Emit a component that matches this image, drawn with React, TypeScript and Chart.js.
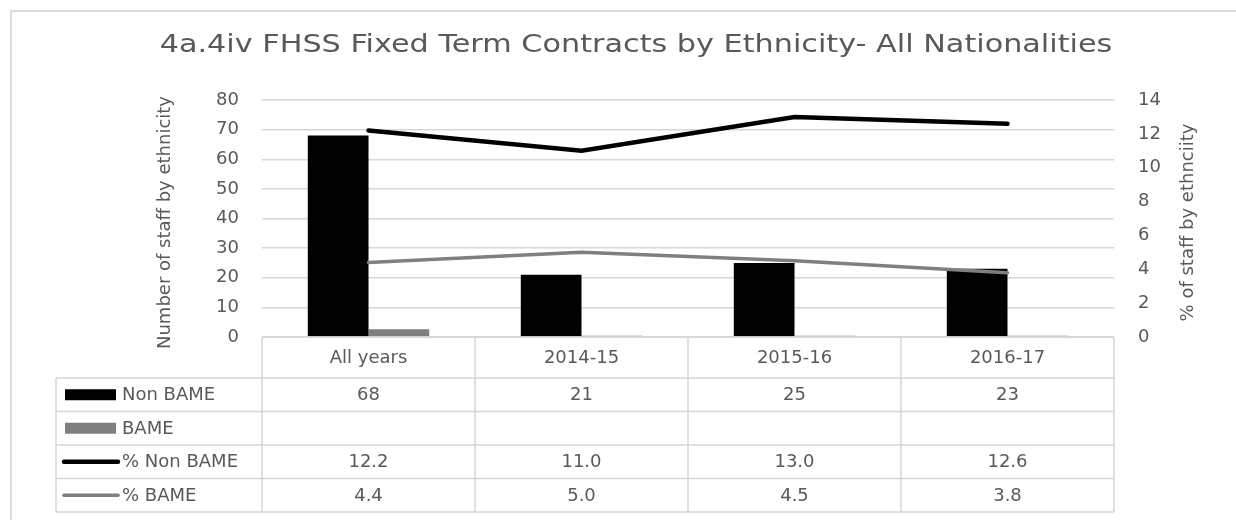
import React, { useEffect, useRef } from "react";
import { Chart, registerables } from "chart.js";

Chart.register(...registerables);

// ---------- data ----------
const TITLE = "4a.4iv FHSS Fixed Term Contracts by Ethnicity- All Nationalities";
const LEFT_AXIS_TITLE = "Number of staff by ethnicity";
const RIGHT_AXIS_TITLE = "% of staff by ethnciity";
const categories = ["All years", "2014-15", "2015-16", "2016-17"];
const seriesNames = ["Non BAME", "BAME", "% Non BAME", "% BAME"];
const nonBame = [68, 21, 25, 23];
const bame = [2.6, 0.4, 0.4, 0.4];
const pctNonBame = [12.2, 11.0, 13.0, 12.6];
const pctBame = [4.4, 5.0, 4.5, 3.8];
const countMax = 80;
const countStep = 10;
const pctMax = 14;
const pctStep = 2;

// ---------- styles ----------
const FONT = "'DejaVu Sans', sans-serif";
const TEXT = "#595959";
const GRID = "#d6d6d6";
const BLACK = "#000000";
const GREY = "#7f7f7f";
const W = 1236;
const H = 520;

export default function App() {
  const ref = useRef<HTMLCanvasElement | null>(null);

  useEffect(() => {
    if (!ref.current) return;

    const tableRows = [
      { name: seriesNames[0], kind: "bar", color: BLACK, width: 0, cells: nonBame.map((v) => String(v)) },
      { name: seriesNames[1], kind: "bar", color: GREY, width: 0, cells: categories.map(() => "") },
      { name: seriesNames[2], kind: "line", color: BLACK, width: 4.5, cells: pctNonBame.map((v) => v.toFixed(1)) },
      { name: seriesNames[3], kind: "line", color: GREY, width: 3.5, cells: pctBame.map((v) => v.toFixed(1)) },
    ];

    const decor = {
      id: "decor",
      beforeDraw(chart: any) {
        const ctx = chart.ctx;
        ctx.save();
        ctx.fillStyle = "#ffffff";
        ctx.fillRect(0, 0, chart.width, chart.height);
        ctx.strokeStyle = "#dcdcdc";
        ctx.lineWidth = 2;
        ctx.strokeRect(11, 11, chart.width + 40, chart.height + 40);
        ctx.restore();
      },
      afterDraw(chart: any) {
        const ctx = chart.ctx;
        const area = chart.chartArea;
        const xs = chart.scales.x;
        ctx.save();
        ctx.fillStyle = TEXT;

        // chart title (horizontally widened)
        ctx.font = `25px ${FONT}`;
        ctx.textAlign = "center";
        ctx.textBaseline = "middle";
        ctx.save();
        ctx.translate(636, 45);
        ctx.scale(1.21, 1);
        ctx.fillText(TITLE, 0, 0);
        ctx.restore();

        // axis titles
        const midY = (area.top + area.bottom) / 2 + 4;
        ctx.font = `18px ${FONT}`;
        ctx.save();
        ctx.translate(area.left - 97, midY);
        ctx.rotate(-Math.PI / 2);
        ctx.fillText(LEFT_AXIS_TITLE, 0, 0);
        ctx.restore();
        ctx.save();
        ctx.translate(area.right + 74, midY);
        ctx.rotate(-Math.PI / 2);
        ctx.fillText(RIGHT_AXIS_TITLE, 0, 0);
        ctx.restore();

        // data table
        const n = categories.length;
        const colW = (area.right - area.left) / n;
        const top = area.bottom;
        const headerH = 41;
        const rowH = 33.5;
        const legendLeft = 56;
        const bottom = top + headerH + rowH * tableRows.length;

        ctx.strokeStyle = GRID;
        ctx.lineWidth = 1.5;
        ctx.beginPath();
        for (let i = 0; i <= n; i++) {
          const x = area.left + i * colW;
          ctx.moveTo(x, top);
          ctx.lineTo(x, bottom);
        }
        ctx.moveTo(area.left, top);
        ctx.lineTo(area.right, top);
        for (let r = 0; r <= tableRows.length; r++) {
          const y = top + headerH + r * rowH;
          ctx.moveTo(legendLeft, y);
          ctx.lineTo(area.right, y);
        }
        ctx.moveTo(legendLeft, top + headerH);
        ctx.lineTo(legendLeft, bottom);
        ctx.stroke();

        ctx.font = `18px ${FONT}`;
        ctx.fillStyle = TEXT;
        ctx.textAlign = "center";
        ctx.textBaseline = "middle";
        categories.forEach((c, i) => {
          ctx.fillText(c, xs.getPixelForValue(i), top + headerH / 2 + 1);
        });

        tableRows.forEach((row, r) => {
          const cy = top + headerH + r * rowH + rowH / 2;
          if (row.kind === "bar") {
            ctx.fillStyle = row.color;
            ctx.fillRect(legendLeft + 9, cy - 5.5, 51, 11);
          } else {
            ctx.strokeStyle = row.color;
            ctx.lineWidth = row.width;
            ctx.lineCap = "round";
            ctx.beginPath();
            ctx.moveTo(legendLeft + 8, cy);
            ctx.lineTo(legendLeft + 62, cy);
            ctx.stroke();
          }
          ctx.fillStyle = TEXT;
          ctx.textAlign = "left";
          ctx.fillText(row.name, legendLeft + 66, cy + 1);
          ctx.textAlign = "center";
          row.cells.forEach((t, i) => {
            ctx.fillText(t, xs.getPixelForValue(i), cy + 1);
          });
        });
        ctx.restore();
      },
    };

    const chart = new Chart(ref.current, {
      type: "bar",
      data: {
        labels: categories,
        datasets: [
          {
            type: "line",
            label: seriesNames[2],
            data: pctNonBame,
            yAxisID: "y1",
            borderColor: BLACK,
            borderWidth: 4.5,
            pointRadius: 0,
            tension: 0,
            borderCapStyle: "round",
            order: 0,
          },
          {
            type: "line",
            label: seriesNames[3],
            data: pctBame,
            yAxisID: "y1",
            borderColor: GREY,
            borderWidth: 3.5,
            pointRadius: 0,
            tension: 0,
            borderCapStyle: "round",
            order: 1,
          },
          {
            type: "bar",
            label: seriesNames[0],
            data: nonBame,
            yAxisID: "y",
            backgroundColor: BLACK,
            categoryPercentage: 0.57,
            barPercentage: 1,
            order: 2,
          },
          {
            type: "bar",
            label: seriesNames[1],
            data: bame,
            yAxisID: "y",
            backgroundColor: GREY,
            categoryPercentage: 0.57,
            barPercentage: 1,
            order: 3,
          },
        ] as any,
      },
      options: {
        responsive: false,
        animation: false,
        devicePixelRatio: 1,
        layout: { padding: { left: 0, right: 0, top: 100, bottom: 183 } },
        plugins: {
          legend: { display: false },
          tooltip: { enabled: false },
          title: { display: false },
        },
        scales: {
          x: {
            display: false,
            offset: true,
          },
          y: {
            position: "left",
            min: 0,
            max: countMax,
            ticks: {
              stepSize: countStep,
              padding: 23,
              color: TEXT,
              font: { family: FONT, size: 18 },
            },
            grid: { color: GRID, lineWidth: 1.5, drawTicks: false },
            border: { display: false },
            afterFit: (s: any) => {
              s.width = 262;
            },
          },
          y1: {
            position: "right",
            min: 0,
            max: pctMax,
            ticks: {
              stepSize: pctStep,
              padding: 24,
              color: TEXT,
              font: { family: FONT, size: 18 },
            },
            grid: { display: false, drawTicks: false },
            border: { display: false },
            afterFit: (s: any) => {
              s.width = W - 1114;
            },
          },
        },
      } as any,
      plugins: [decor],
    });

    return () => chart.destroy();
  }, []);

  return (
    <div style={{ position: "absolute", left: 0, top: 0, width: W, height: H, background: "#fff" }}>
      <canvas ref={ref} width={W} height={H} style={{ display: "block" }} />
    </div>
  );
}
